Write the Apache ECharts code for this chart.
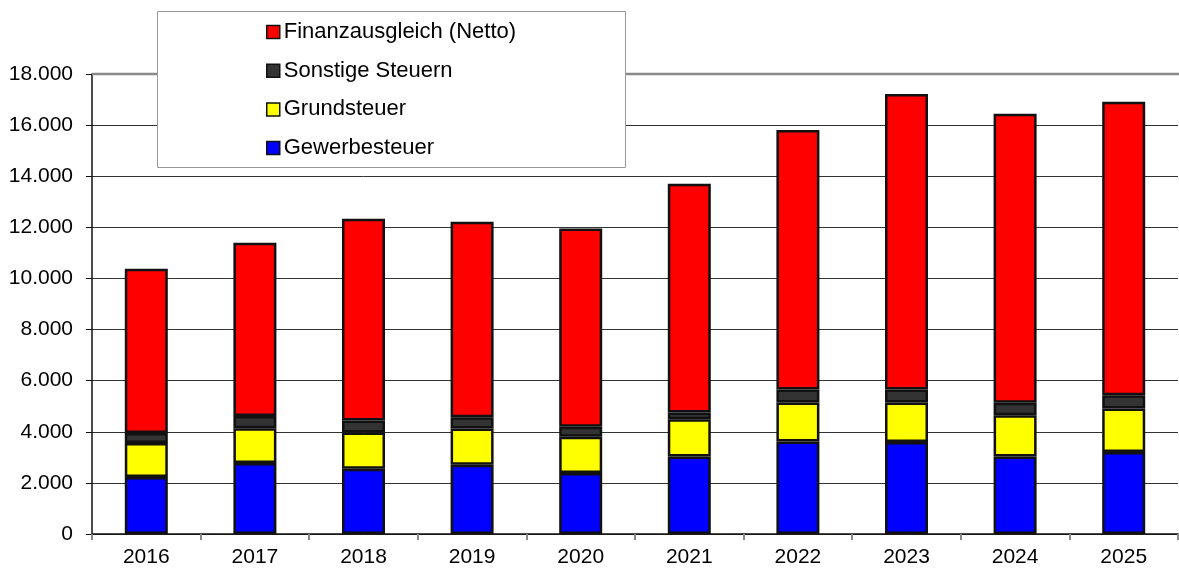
<!DOCTYPE html>
<html>
<head>
<meta charset="utf-8">
<script src="https://cdn.jsdelivr.net/npm/echarts@6/dist/echarts.min.js"></script>
<style>html,body{margin:0;padding:0;background:#fff}#c{width:1179px;height:568px}</style>
</head>
<body>
<div id="c"></div>
<script>
const years = ['2016','2017','2018','2019','2020','2021','2022','2023','2024','2025'];
const gewerbesteuer = [2230, 2780, 2550, 2710, 2390, 3030, 3620, 3600, 3030, 3210];
const grundsteuer = [1330, 1360, 1420, 1420, 1420, 1460, 1530, 1550, 1620, 1700];
const sonstigeSteuern = [390, 480, 470, 440, 390, 260, 500, 500, 490, 520];
const finanzausgleich = [6430, 6780, 7900, 7650, 7750, 8960, 10160, 11570, 11300, 11480];
const yTicks = [0, 2000, 4000, 6000, 8000, 10000, 12000, 14000, 16000, 18000];

const FONT = 'Liberation Sans, Arial, sans-serif';
const chart = echarts.init(document.getElementById('c'));
function mk(name, data, color) {
  return {
    name: name, type: 'bar', stack: 's', data: data, barWidth: 43,
    itemStyle: { color: color, borderColor: '#111', borderWidth: 2.5 }
  };
}
chart.setOption({
  animation: false,
  grid: { left: 92, right: 1, top: 74, bottom: 33 },
  graphic: [{
    type: 'rect', z: 3,
    shape: { x: 157.5, y: 11.5, width: 468, height: 156 },
    style: { fill: '#fff', stroke: '#999', lineWidth: 1 }
  }, {
    type: 'line', z: 2,
    shape: { x1: 92, y1: 74, x2: 1179, y2: 74 },
    style: { stroke: '#8a8a8a', lineWidth: 2.5 }
  }],
  legend: {
    orient: 'vertical', left: 266, top: 21, z: 5, padding: 0,
    itemWidth: 13, itemHeight: 13, itemGap: 16.7,
    icon: 'rect',
    itemStyle: { borderColor: '#111', borderWidth: 1.5 },
    textStyle: { fontFamily: FONT, fontSize: 22, color: '#000', padding: [0,0,0,-1] },
    data: ['Finanzausgleich (Netto)', 'Sonstige Steuern', 'Grundsteuer', 'Gewerbesteuer']
  },
  xAxis: {
    type: 'category', data: years,
    axisLine: { lineStyle: { color: '#111', width: 1.5 } },
    axisTick: { show: true, length: 6, lineStyle: { color: '#888', width: 2 } },
    axisLabel: { fontFamily: FONT, fontSize: 21, color: '#000', margin: 13 }
  },
  yAxis: {
    type: 'value', min: 0, max: 18000, interval: 2000,
    axisLine: { show: true, lineStyle: { color: '#111', width: 1.5 } },
    axisTick: { show: true, length: 6, lineStyle: { color: '#111' } },
    splitLine: { lineStyle: { color: '#333', width: 1 } },
    axisLabel: {
      fontFamily: FONT, fontSize: 21, color: '#000', margin: 19,
      formatter: function (v) { return yTicks.indexOf(v) >= 0 ? v.toLocaleString('de-DE') : ''; }
    }
  },
  series: [
    mk('Gewerbesteuer', gewerbesteuer, '#0000ff'),
    mk('Grundsteuer', grundsteuer, '#ffff00'),
    mk('Sonstige Steuern', sonstigeSteuern, '#333333'),
    mk('Finanzausgleich (Netto)', finanzausgleich, '#ff0000')
  ]
});
</script>
</body>
</html>
